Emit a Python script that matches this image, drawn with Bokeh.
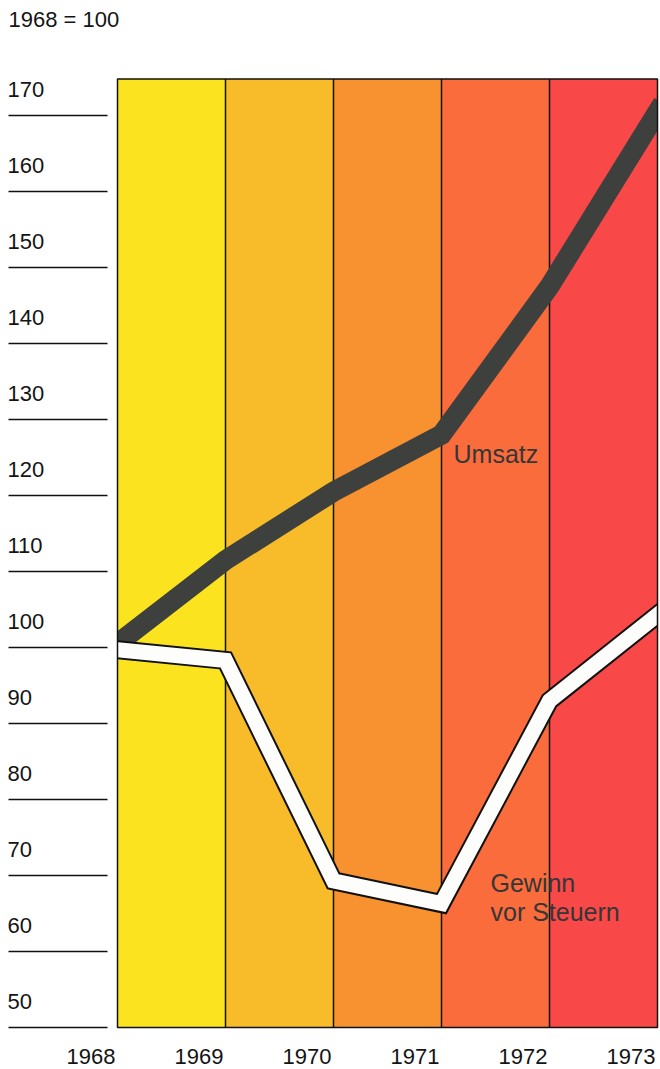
from bokeh.plotting import figure
from bokeh.models import Range1d
from bokeh.core.properties import value
from bokeh.embed import file_html
from bokeh.resources import INLINE

# ---- data ----
years = [1968, 1969, 1970, 1971, 1972, 1973]
umsatz = [100.5, 111.5, 120.5, 128.0, 147.5, 170.5]
gewinn = [99.7, 98.3, 69.3, 66.3, 93.0, 104.3]
y_ticks = [50, 60, 70, 80, 90, 100, 110, 120, 130, 140, 150, 160, 170]
year_labels = ["1968", "1969", "1970", "1971", "1972", "1973"]
band_colors = ["#FBE41F", "#F8BB2A", "#F8912F", "#FA6C3B", "#F94848"]
header = "1968 = 100"
label_umsatz = "Umsatz"
label_gewinn = ["Gewinn", "vor Steuern"]

# ---- layout (pixels) ----
W, H = 660, 1069
PX_PER_YEAR = 108.0
PX_PER_UNIT = 7.6
LEFT_PX = 117      # frame left edge (1968)
TOP_VAL_PX = 115   # pixel of 170 tick
BOTTOM_PX = 42     # pixels below 50
FRAME_TOP = 174.8

FONT = value("Liberation Sans")
TXT = "#141414"

x0 = years[0] - LEFT_PX / PX_PER_YEAR
x1 = years[-1] + (W - LEFT_PX - PX_PER_YEAR * (len(years) - 1)) / PX_PER_YEAR
y0 = y_ticks[0] - BOTTOM_PX / PX_PER_UNIT
y1 = y_ticks[-1] + TOP_VAL_PX / PX_PER_UNIT

p = figure(width=W, height=H, output_backend="svg", toolbar_location=None,
           x_range=Range1d(x0, x1), y_range=Range1d(y0, y1),
           min_border=0, tools="")
p.axis.visible = False
p.grid.visible = False
p.outline_line_color = None
p.background_fill_color = "white"
p.border_fill_color = "white"

# colour bands
p.quad(left=years[:-1], right=years[1:], bottom=y_ticks[0], top=FRAME_TOP,
       fill_color=band_colors, line_color=None)
# band boundaries
p.segment(x0=years[1:-1], x1=years[1:-1], y0=y_ticks[0], y1=FRAME_TOP,
          line_color="#111111", line_width=1.5)

# Umsatz line
p.line(years, umsatz, line_color="#3e403e", line_width=20,
       line_join="miter", line_cap="square")
# Gewinn line (white with black outline)
p.line(years, gewinn, line_color="#111111", line_width=19,
       line_join="miter", line_cap="square")
p.line(years, gewinn, line_color="#fdfdfb", line_width=15,
       line_join="miter", line_cap="square")

# masks outside the frame
p.quad(left=[x0, years[-1]], right=[years[0], x1], bottom=y0, top=FRAME_TOP + 3,
       fill_color="white", line_color=None)

# frame outline
p.quad(left=years[0], right=years[-1], bottom=y_ticks[0], top=FRAME_TOP,
       fill_color=None, line_color="#111111", line_width=1.5)

# y tick lines and labels
tick_start = x0 + 8 / PX_PER_YEAR
tick_end = years[0] - 10 / PX_PER_YEAR
p.segment(x0=tick_start, x1=tick_end, y0=y_ticks, y1=y_ticks,
          line_color="#111111", line_width=1.5)
p.text(x=tick_start, y=y_ticks, text=[str(t) for t in y_ticks], text_font=FONT,
       text_font_size="22px", text_color=TXT, text_align="left",
       text_baseline="alphabetic", x_offset=-1, y_offset=-26)

# x labels
p.text(x=years, y=y_ticks[0], text=year_labels, text_font=FONT,
       text_font_size="22px", text_color=TXT, text_align="right",
       text_baseline="alphabetic", x_offset=-2, y_offset=29)

# header
p.text(x=[tick_start], y=[y1], text=[header], text_font=FONT, text_font_size="22px",
       text_color=TXT, text_align="left", text_baseline="alphabetic",
       y_offset=19)

# series labels
p.text(x=[years[3]], y=[124.3], text=[label_umsatz], text_font=FONT,
       text_font_size="25px", text_color="#363636", text_align="left",
       text_baseline="alphabetic", x_offset=12, y_offset=-9)
p.text(x=[years[3], years[3]], y=[67.8, 67.8], text=label_gewinn, text_font=FONT,
       text_font_size="25px", text_color="#363636", text_align="left",
       text_baseline="alphabetic", x_offset=49, y_offset=[-9, 20])

open("out.html", "w").write(file_html(p, INLINE))
